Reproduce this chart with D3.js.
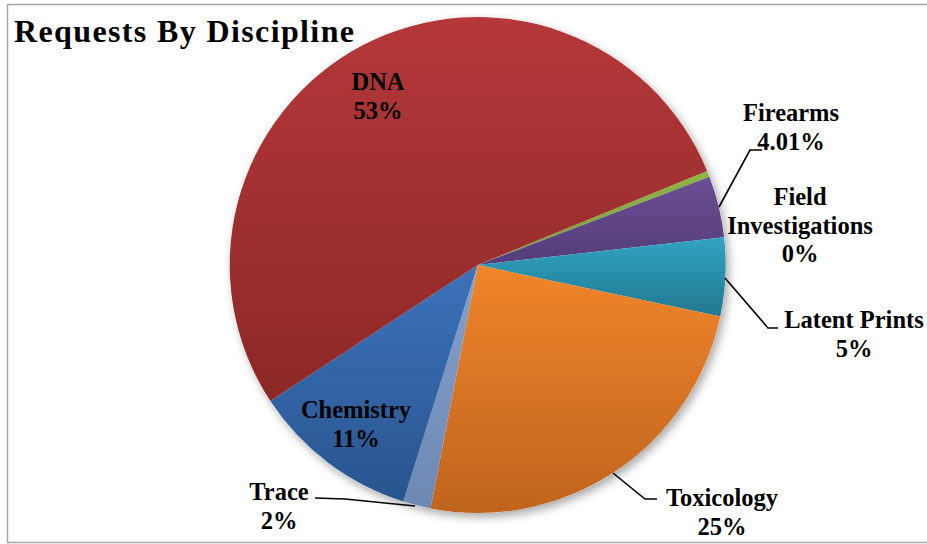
<!DOCTYPE html>
<html>
<head>
<meta charset="utf-8">
<title>Requests By Discipline</title>
<script src="https://d3js.org/d3.v7.min.js"></script>
<style>
  body { margin: 0; padding: 0; background: #fff; }
  svg text { font-family: 'Liberation Serif', 'Times New Roman', serif; font-weight: bold; fill: #000; }
</style>
</head>
<body>
<div id="chart"></div>
<script>
// data, in pie order (clockwise)
const categories = ["Field Investigations", "Firearms", "Latent Prints", "Toxicology", "Trace", "Chemistry", "DNA"];
const values = [0.4, 4.01, 5.1, 24.7, 1.8, 10.9, 53];
const valueLabels = ["0%", "4.01%", "5%", "25%", "2%", "11%", "53%"];
const topColors = ["#8db646", "#6a4f93", "#31a3c2", "#f0852a", "#84a0cb", "#3c72ba", "#b5383a"];
const bottomColors = ["#78a035", "#543c7a", "#22788f", "#bf641e", "#6d88b3", "#29558f", "#8b2826"];

const width = 927, height = 544;
const cx = 477.7, cy = 265, radius = 248;

const svg = d3.select("#chart").append("svg")
    .attr("width", width)
    .attr("height", height);

// frame
svg.append("rect")
    .attr("x", 7.5).attr("y", 4.5)
    .attr("width", width + 10).attr("height", 538)
    .attr("fill", "#fff")
    .attr("stroke", "#a6a6a6")
    .attr("stroke-width", 1.5);

const defs = svg.append("defs");

const shadow = defs.append("filter").attr("id", "shadow")
    .attr("x", "-10%").attr("y", "-10%").attr("width", "125%").attr("height", "125%");
shadow.append("feDropShadow")
    .attr("dx", 3).attr("dy", 4).attr("stdDeviation", 5)
    .attr("flood-color", "#000").attr("flood-opacity", 0.35);

categories.forEach((c, i) => {
    const g = defs.append("linearGradient")
        .attr("id", "grad" + i)
        .attr("x1", 0).attr("y1", 0).attr("x2", 0).attr("y2", 1);
    g.append("stop").attr("offset", "0%").attr("stop-color", topColors[i]);
    g.append("stop").attr("offset", "100%").attr("stop-color", bottomColors[i]);
});

const startAngle = 67.7 * Math.PI / 180;
const pie = d3.pie().sort(null).value(d => d)
    .startAngle(startAngle).endAngle(startAngle + 2 * Math.PI);
const arc = d3.arc().innerRadius(0).outerRadius(radius);

const pieG = svg.append("g")
    .attr("transform", `translate(${cx},${cy})`);

// shadow base
pieG.append("circle").attr("r", radius).attr("fill", "#fff").attr("filter", "url(#shadow)");

pieG.selectAll("path.slice")
    .data(pie(values))
    .join("path")
    .attr("class", "slice")
    .attr("d", arc)
    .attr("fill", (d, i) => `url(#grad${i})`);

// title
svg.append("text")
    .attr("x", 14).attr("y", 42)
    .attr("font-size", 32)
    .attr("textLength", 340)
    .attr("lengthAdjust", "spacing")
    .text("Requests By Discipline");

// data labels: [category index, x, baseline of first line, lines]
const labelPos = [
    { i: 6, x: 378, y: 90, lines: ["DNA"] },
    { i: 1, x: 791, y: 121, lines: ["Firearms"] },
    { i: 0, x: 800, y: 205, lines: ["Field", "Investigations"] },
    { i: 2, x: 854, y: 328, lines: ["Latent Prints"] },
    { i: 3, x: 722, y: 506, lines: ["Toxicology"] },
    { i: 5, x: 356, y: 418, lines: ["Chemistry"] },
    { i: 4, x: 279, y: 500, lines: ["Trace"] }
];
const lineH = 28.5;

labelPos.forEach(p => {
    const t = svg.append("text")
        .attr("text-anchor", "middle")
        .attr("font-size", 24.5);
    p.lines.concat([valueLabels[p.i]]).forEach((s, k) => {
        t.append("tspan").attr("x", p.x).attr("y", p.y + k * lineH).text(s);
    });
});

// leader lines, from slice edge to label
const leaders = [
    [[719, 207], [750, 150], [762, 150]],
    [[725, 278], [768, 328], [778, 328]],
    [[613, 473], [645, 499], [657, 499]],
    [[415, 506], [345, 499], [315, 498]]
];
svg.selectAll("path.leader")
    .data(leaders)
    .join("path")
    .attr("class", "leader")
    .attr("d", d3.line())
    .attr("fill", "none")
    .attr("stroke", "#000")
    .attr("stroke-width", 1.6);
</script>
</body>
</html>
